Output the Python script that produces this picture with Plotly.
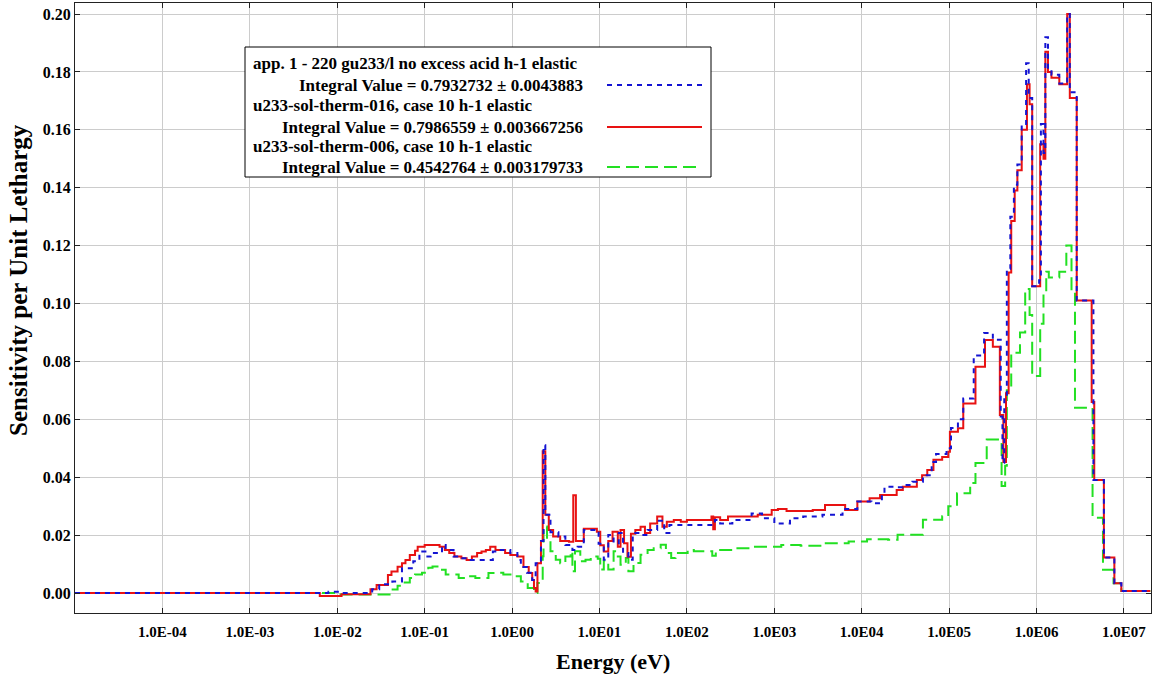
import plotly.graph_objects as go

# energy group lower bounds (eV) and sensitivity per unit lethargy
red_energy = [1.0e-5, 6.31e-3, 1.12e-2, 2.40e-2, 2.82e-2, 3.80e-2, 4.17e-2, 4.90e-2, 5.50e-2, 6.03e-2,
              6.76e-2, 7.76e-2, 8.32e-2, 1.0e-1, 1.48e-1, 1.70e-1, 1.91e-1, 2.19e-1, 2.63e-1, 3.02e-1,
              3.47e-1, 3.98e-1, 4.47e-1, 5.01e-1, 5.62e-1, 6.46e-1, 8.32e-1, 9.55e-1, 1.15, 1.35,
              1.55, 1.70, 1.78, 1.86, 1.95, 2.14, 2.24, 2.40, 2.63, 2.95,
              3.55, 4.47, 5.01, 5.37, 6.61, 9.33, 10.2, 11.2, 12.6, 14.1,
              16.2, 17.4, 19.1, 20.9, 22.9, 25.7, 29.5, 33.1, 38.0, 45.7,
              52.5, 58.9, 70.8, 85.1, 100, 191, 200, 209, 240, 295,
              646, 933, 1.10e3, 1.38e3, 2.75e3, 3.80e3, 6.46e3, 8.91e3, 1.23e4, 1.62e4,
              2.51e4, 2.95e4, 4.27e4, 4.90e4, 5.62e4, 6.61e4, 8.32e4, 9.77e4, 1.02e5, 1.26e5,
              1.45e5, 2.00e5, 2.57e5, 3.16e5, 3.80e5, 4.17e5, 4.47e5, 4.79e5, 5.13e5, 5.62e5,
              6.03e5, 6.76e5, 7.76e5, 8.32e5, 8.91e5, 1.10e6, 1.20e6, 1.26e6, 1.35e6, 1.48e6,
              1.82e6, 2.24e6, 2.40e6, 2.88e6, 4.27e6, 4.57e6, 5.89e6, 7.76e6, 9.33e6, 2.0e7]
red_sens = [0.0, -0.001, -0.0004, 0.0013, 0.0028, 0.0062, 0.0074, 0.0091, 0.0103, 0.0114,
            0.0131, 0.0146, 0.016, 0.0166, 0.016, 0.0149, 0.0138, 0.0126, 0.012, 0.0114,
            0.0126, 0.0138, 0.0143, 0.0149, 0.016, 0.0149, 0.0138, 0.0131, 0.0126, 0.009,
            0.0069, 0.0045, 0.0017, 0.0005, 0.0103, 0.018, 0.049, 0.027, 0.0218, 0.0195,
            0.018, 0.0177, 0.0338, 0.018, 0.0222, 0.0212, 0.0165, 0.0143, 0.018, 0.0212,
            0.016, 0.0218, 0.0172, 0.0125, 0.0205, 0.0218, 0.0229, 0.0207, 0.024, 0.0264,
            0.0229, 0.0246, 0.0252, 0.0246, 0.0252, 0.0264, 0.022, 0.0262, 0.0252, 0.0264,
            0.027, 0.0287, 0.029, 0.0283, 0.0287, 0.0304, 0.0287, 0.0316, 0.0327, 0.0339,
            0.0356, 0.0367, 0.039, 0.0407, 0.0425, 0.046, 0.047, 0.0488, 0.0557, 0.0569,
            0.0655, 0.0782, 0.0874, 0.0851, 0.0615, 0.0453, 0.069, 0.1107, 0.1285, 0.139,
            0.146, 0.16, 0.1757, 0.1688, 0.106, 0.155, 0.150, 0.187, 0.18, 0.178,
            0.1757, 0.2, 0.171, 0.101, 0.066, 0.039, 0.0123, 0.0034, 0.0007, 0.0007]

blue_energy = [1.0e-5, 7.94e-3, 1.12e-2, 2.51e-2, 3.02e-2, 4.27e-2, 5.50e-2, 7.41e-2, 8.71e-2, 1.02e-1,
               1.17e-1, 1.58e-1, 1.74e-1, 2.14e-1, 2.57e-1, 3.09e-1, 6.03e-1, 7.41e-1, 9.55e-1, 1.15,
               1.26, 1.48, 1.70, 1.86, 2.14, 2.29, 2.40, 2.75, 3.39, 4.07,
               4.90, 5.62, 6.61, 9.77, 11.2, 12.6, 14.5, 16.6, 18.6, 21.4,
               24.0, 29.5, 35.5, 45.7, 55.0, 63.1, 209, 240, 331, 550,
               724, 1.0e3, 1.51e3, 2.14e3, 3.55e3, 6.03e3, 8.91e3, 1.29e4, 1.70e4, 1.82e4,
               2.51e4, 2.95e4, 3.80e4, 5.01e4, 6.31e4, 7.08e4, 9.33e4, 1.05e5, 1.26e5, 1.45e5,
               1.91e5, 2.51e5, 3.16e5, 3.89e5, 4.07e5, 4.27e5, 4.57e5, 5.01e5, 5.50e5, 6.03e5,
               6.76e5, 7.59e5, 8.13e5, 8.91e5, 1.07e6, 1.12e6, 1.20e6, 1.26e6, 1.35e6, 1.48e6,
               1.82e6, 2.24e6, 2.40e6, 2.88e6, 4.47e6, 5.89e6, 7.76e6, 9.33e6, 2.0e7]
blue_sens = [0.0, 0.0004, 0.0, 0.0013, 0.003, 0.004, 0.0086, 0.011, 0.0143, 0.0126,
             0.0138, 0.0166, 0.0149, 0.0126, 0.012, 0.0114, 0.0143, 0.0149, 0.0138, 0.0114,
             0.009, 0.007, 0.0045, 0.0103, 0.018, 0.051, 0.027, 0.021, 0.0195, 0.0166,
             0.0149, 0.016, 0.0218, 0.017, 0.0115, 0.020, 0.0172, 0.0207, 0.0138, 0.0115,
             0.0207, 0.020, 0.0218, 0.025, 0.0207, 0.0235, 0.0252, 0.024, 0.0252, 0.0275,
             0.0258, 0.024, 0.0258, 0.0264, 0.027, 0.029, 0.0316, 0.031, 0.0344, 0.0367,
             0.0365, 0.0373, 0.0384, 0.0407, 0.0453, 0.048, 0.050, 0.057, 0.060, 0.0672,
             0.082, 0.0898, 0.0875, 0.061, 0.045, 0.068, 0.112, 0.13, 0.141, 0.148,
             0.162, 0.183, 0.171, 0.106, 0.108, 0.162, 0.152, 0.192, 0.181, 0.179,
             0.176, 0.2, 0.173, 0.101, 0.039, 0.0123, 0.0034, 0.0007, 0.0007]

green_energy = [1.0e-5, 1.0e-2, 4.17e-2, 4.90e-2, 5.62e-2, 6.76e-2, 7.76e-2, 9.33e-2, 1.10e-1, 1.23e-1,
                1.45e-1, 1.74e-1, 2.45e-1, 3.16e-1, 3.80e-1, 5.37e-1, 6.76e-1, 7.94e-1, 1.05, 1.26,
                1.51, 1.78, 1.95, 2.24, 2.29, 2.51, 2.75, 3.16, 3.55, 4.07,
                4.68, 4.90, 5.25, 6.03, 6.92, 7.94, 9.55, 10.2, 11.2, 12.6,
                14.5, 16.2, 17.4, 20.0, 21.4, 24.5, 29.5, 35.5, 41.7, 50.1,
                57.5, 66.1, 74.1, 102, 120, 195, 214, 347, 550, 1.20e3,
                2.00e3, 3.63e3, 7.08e3, 1.15e4, 2.00e4, 2.57e4, 5.01e4, 8.32e4, 9.77e4, 1.23e5,
                1.74e5, 2.00e5, 2.69e5, 3.98e5, 4.37e5, 4.57e5, 5.13e5, 6.46e5, 7.41e5, 8.32e5,
                8.91e5, 1.10e6, 1.20e6, 1.29e6, 1.38e6, 1.82e6, 2.19e6, 2.51e6, 2.75e6, 4.37e6,
                5.75e6, 7.59e6, 9.33e6, 2.0e7]
green_sens = [0.0, -0.0005, 0.0012, 0.0025, 0.0036, 0.0052, 0.0064, 0.007, 0.0087, 0.0092,
              0.008, 0.0064, 0.0052, 0.0058, 0.0052, 0.0069, 0.007, 0.0064, 0.0058, 0.004,
              0.0017, 0.0, 0.0035, 0.0127, 0.023, 0.018, 0.0144, 0.0115, 0.0103, 0.0126,
              0.0144, 0.0075, 0.0144, 0.011, 0.0115, 0.0126, 0.0118, 0.0081, 0.0112, 0.0081,
              0.0144, 0.0126, 0.0098, 0.0121, 0.0075, 0.0104, 0.0132, 0.0149, 0.0155, 0.0167,
              0.0138, 0.0121, 0.0138, 0.0149, 0.0144, 0.0129, 0.0149, 0.0155, 0.016, 0.0166,
              0.0163, 0.0172, 0.0178, 0.0186, 0.0184, 0.0201, 0.0253, 0.0265, 0.030, 0.0345,
              0.038, 0.0449, 0.053, 0.037, 0.044, 0.070, 0.083, 0.090, 0.105, 0.096,
              0.075, 0.093, 0.104, 0.111, 0.109, 0.111, 0.120, 0.104, 0.064, 0.026,
              0.008, 0.0034, 0.0007, 0.0007]

series_names = ["app. 1 - 220 gu233/l no excess acid h-1 elastic",
                "u233-sol-therm-016, case 10 h-1 elastic",
                "u233-sol-therm-006, case 10 h-1 elastic"]
integral_values = ["0.7932732 \u00b1 0.0043883",
                   "0.7986559 \u00b1 0.003667256",
                   "0.4542764 \u00b1 0.003179733"]

x_tick_vals = [1e-4, 1e-3, 1e-2, 1e-1, 1e0, 1e1, 1e2, 1e3, 1e4, 1e5, 1e6, 1e7]
x_tick_text = ["1.0E-04", "1.0E-03", "1.0E-02", "1.0E-01", "1.0E00", "1.0E01",
               "1.0E02", "1.0E03", "1.0E04", "1.0E05", "1.0E06", "1.0E07"]
y_tick_vals = [0.0, 0.02, 0.04, 0.06, 0.08, 0.10, 0.12, 0.14, 0.16, 0.18, 0.20]

BLUE = "#1414d2"
RED = "#e81212"
GREEN = "#22e022"
FONT = "Liberation Serif"

W, H = 1156, 678
L, R, T, B = 75, 5, 3, 65
pw, ph = W - L - R, H - T - B


def px(x):
    return (x - L) / pw


def py(y):
    return (H - B - y) / ph


fig = go.Figure()
fig.add_trace(go.Scatter(x=green_energy, y=green_sens, mode="lines", line_shape="hv",
                         line=dict(color=GREEN, width=2, dash="13px,6px"), name=series_names[2]))
fig.add_trace(go.Scatter(x=red_energy, y=red_sens, mode="lines", line_shape="hv",
                         line=dict(color=RED, width=2), name=series_names[1]))
fig.add_trace(go.Scatter(x=blue_energy, y=blue_sens, mode="lines", line_shape="hv",
                         line=dict(color=BLUE, width=2, dash="5px,5px"), name=series_names[0]))

# hand-made legend box (text left, line sample on the right)
fig.add_shape(type="rect", xref="paper", yref="paper", x0=px(245), x1=px(711), y0=py(47), y1=py(177),
              line=dict(color="black", width=1), fillcolor="white", layer="above")
row_y = [(63, 85), (105, 127), (147, 167)]
styles = [dict(color=BLUE, width=2, dash="5px,5px"), dict(color=RED, width=2),
          dict(color=GREEN, width=2, dash="13px,6px")]
for (y1, y2), name, val, st in zip(row_y, series_names, integral_values, styles):
    fig.add_annotation(xref="paper", yref="paper", x=px(251), y=py(y1), xanchor="left", yanchor="middle",
                       text="<b>" + name + "</b>", showarrow=False,
                       font=dict(family=FONT, size=17, color="black"))
    fig.add_annotation(xref="paper", yref="paper", x=px(585), y=py(y2), xanchor="right", yanchor="middle",
                       text="<b>Integral Value = " + val + "</b>", showarrow=False,
                       font=dict(family=FONT, size=17, color="black"))
    fig.add_shape(type="line", xref="paper", yref="paper", x0=px(607), x1=px(702), y0=py(y2), y1=py(y2),
                  line=st, layer="above")

# axis titles
fig.add_annotation(xref="paper", yref="paper", x=px(613), y=py(662), xanchor="center", yanchor="middle",
                   text="<b>Energy (eV)</b>", showarrow=False, font=dict(family=FONT, size=22, color="black"))
fig.add_annotation(xref="paper", yref="paper", x=px(18), y=py(280), xanchor="center", yanchor="middle",
                   textangle=-90, text="<b>Sensitivity per Unit Lethargy</b>", showarrow=False,
                   font=dict(family=FONT, size=25, color="black"))

fig.update_layout(
    width=W, height=H, margin=dict(l=L, r=R, t=T, b=B),
    paper_bgcolor="white", plot_bgcolor="white", showlegend=False,
    font=dict(family=FONT, size=15, color="black"),
)
fig.update_xaxes(type="log", range=[-5, 7.309], tickvals=x_tick_vals, ticktext=x_tick_text,
                 automargin=False, showgrid=True, gridcolor="#cccccc", gridwidth=1,
                 showline=True, linecolor="#222222", linewidth=1, mirror="allticks",
                 ticks="inside", ticklen=5, tickcolor="#222222", zeroline=False, ticklabelstandoff=5,
                 tickfont=dict(family=FONT, size=15, color="black", weight="bold"))
fig.update_yaxes(range=[-0.0069, 0.2038], tickvals=y_tick_vals, tickformat=".2f",
                 automargin=False, showgrid=True, gridcolor="#cccccc", gridwidth=1,
                 showline=True, linecolor="#222222", linewidth=1, mirror="allticks",
                 ticks="inside", ticklen=5, tickcolor="#222222", zeroline=False,
                 tickfont=dict(family=FONT, size=16, color="black", weight="bold"))

# the page body has a default 8px margin; remove it so the figure sits at the window corner
fig.write_html("out.html", config={"displayModeBar": False},
               post_script="document.body.style.margin='0px';")
